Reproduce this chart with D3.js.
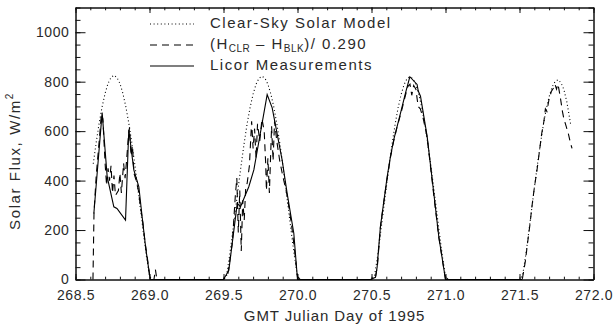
<!DOCTYPE html>
<html>
<head>
<meta charset="utf-8">
<script src="https://cdn.jsdelivr.net/npm/d3@7/dist/d3.min.js"></script>
<style>
  html, body { margin: 0; padding: 0; background: #fff; }
  svg { display: block; }
  text { font-family: "Liberation Sans", Arial, sans-serif; fill: #2a2a2a; }
</style>
</head>
<body>
<svg id="chart" width="614" height="331"></svg>
<script>
// Clear-sky solar model, W/m^2 by GMT Julian day
const clearSky = [
  [268.62,468],[268.64,555],[268.66,633],[268.68,699],[268.70,753],[268.72,793],[268.74,817],[268.76,826],
  [268.78,817],[268.80,793],[268.82,753],[268.84,699],[268.86,633],[268.88,555],[268.90,468],[268.92,375],
  [268.94,279],[268.96,183],[268.98,91],[269.00,13],[269.02,0],
  [269.50,0],[269.52,13],[269.54,91],[269.56,182],[269.58,278],[269.60,374],[269.62,466],[269.64,553],
  [269.66,631],[269.68,697],[269.70,750],[269.72,790],[269.74,814],[269.76,822],[269.78,814],[269.80,790],
  [269.82,750],[269.84,697],[269.86,631],[269.88,553],[269.90,466],[269.92,374],[269.94,278],[269.96,182],
  [269.98,91],[270.00,13],[270.02,0],
  [270.50,0],[270.52,13],[270.54,90],[270.56,182],[270.58,277],[270.60,372],[270.62,465],[270.64,551],
  [270.66,629],[270.68,695],[270.70,748],[270.72,788],[270.74,812],[270.76,820],[270.78,812],[270.80,788],
  [270.82,748],[270.84,695],[270.86,629],[270.88,551],[270.90,465],[270.92,372],[270.94,277],[270.96,182],
  [270.98,90],[271.00,13],[271.02,0],
  [271.50,0],[271.52,13],[271.54,90],[271.56,179],[271.58,274],[271.60,368],[271.62,459],[271.64,544],
  [271.66,621],[271.68,687],[271.70,739],[271.72,778],[271.74,800],[271.76,808],[271.78,796],[271.80,768],
  [271.82,718],[271.845,630]
];

// (H_CLR - H_BLK) / 0.290
const fluxRatio = [
  [268.618,0],[268.625,270],[268.64,420],[268.66,560],[268.675,670],[268.685,650],[268.70,470],[268.71,380],
  [268.72,450],[268.73,400],[268.74,460],[268.75,350],[268.76,420],[268.77,340],[268.79,360],[268.80,430],
  [268.81,350],[268.825,470],[268.835,410],[268.845,480],[268.855,560],[268.865,615],[268.875,500],
  [268.885,540],[268.895,430],[268.91,400],[268.925,360],[268.94,290],[268.955,230],[268.97,150],
  [268.985,90],[269.00,20],[269.01,0],[269.03,0],[269.04,40],[269.05,0],
  [269.50,0],[269.53,25],[269.56,150],[269.58,340],[269.59,410],[269.60,190],[269.61,360],[269.62,115],
  [269.63,320],[269.64,240],[269.65,370],[269.66,390],[269.675,460],[269.69,640],[269.70,530],[269.71,610],
  [269.72,490],[269.73,630],[269.745,560],[269.76,650],[269.775,600],[269.785,470],[269.79,360],[269.80,490],
  [269.81,350],[269.825,620],[269.835,480],[269.845,640],[269.86,560],[269.88,480],[269.90,420],[269.93,340],
  [269.96,220],[269.98,120],[270.00,10],[270.02,0],
  [270.50,0],[270.527,9],[270.54,55],[270.56,210],[270.58,300],[270.606,410],[270.63,500],[270.65,560],
  [270.67,610],[270.70,675],[270.725,735],[270.745,780],[270.76,790],[270.772,745],[270.785,785],[270.80,770],
  [270.815,700],[270.83,690],[270.85,650],[270.876,575],[270.92,345],[270.955,170],[271.00,0],
  [271.50,0],[271.52,5],[271.54,75],[271.555,150],[271.57,220],[271.585,300],[271.60,370],[271.62,450],
  [271.635,520],[271.65,590],[271.665,640],[271.675,690],[271.685,680],[271.70,730],[271.715,760],
  [271.73,775],[271.74,790],[271.75,770],[271.76,790],[271.775,740],[271.79,680],[271.80,650],[271.815,620],
  [271.83,590],[271.845,550],[271.855,530]
];

// Licor pyranometer measurements
const licor = [
  [268.624,267],[268.68,675],[268.714,416],[268.759,294],[268.78,287],[268.838,240],[268.86,606],
  [268.894,443],[268.928,375],[268.95,255],[268.975,125],[269.005,0],
  [269.50,0],[269.536,37],[269.593,308],[269.615,294],[269.671,375],[269.705,443],[269.795,748],
  [269.829,694],[269.896,484],[269.93,348],[269.975,187],[270.00,0],
  [270.493,0],[270.527,9],[270.538,50],[270.56,213],[270.606,416],[270.628,497],[270.65,565],[270.696,673],
  [270.73,755],[270.759,820],[270.808,789],[270.816,762],[270.831,741],[270.876,579],[270.921,348],
  [270.955,172],[271.00,0],[271.52,0]
];

const xMajorTicks = [268.5, 269.0, 269.5, 270.0, 270.5, 271.0, 271.5, 272.0];
const yMajorTicks = [0, 200, 400, 600, 800, 1000];
const legendLabels = ["Clear-Sky Solar Model", "(H_CLR \u2013 H_BLK)/ 0.290", "Licor Measurements"];

const svg = d3.select("#chart");
const plotLeft = 75.5, plotRight = 593.5, plotTop = 7.5, plotBottom = 279.5;

const x = d3.scaleLinear().domain([268.5, 272.0]).range([plotLeft, plotRight]);
const y = d3.scaleLinear().domain([0, 1100]).range([plotBottom, plotTop]);

const xMinor = d3.range(268.5, 272.001, 0.1).map(v => +v.toFixed(1));
const yMinor = d3.range(0, 1101, 50);

function styleAxis(g) {
  g.selectAll("path").attr("stroke", "#111").attr("stroke-width", 1);
  g.selectAll("line").attr("stroke", "#111").attr("stroke-width", 1);
  g.selectAll("text").attr("fill", "#2a2a2a").style("font-size", "14px")
    .style("font-family", "'Liberation Sans', Arial, sans-serif").style("letter-spacing", "0.6px");
}

// bottom axis with labels, ticks pointing inward
svg.append("g").attr("transform", `translate(0,${plotBottom})`)
  .call(d3.axisBottom(x).tickValues(xMinor).tickSize(-2.8).tickSizeOuter(0).tickFormat(""))
  .call(styleAxis);
svg.append("g").attr("transform", `translate(0,${plotBottom})`)
  .call(d3.axisBottom(x).tickValues(xMajorTicks).tickSize(-5.5).tickSizeOuter(0).tickPadding(11)
    .tickFormat(d3.format(".1f")))
  .call(styleAxis);

// top axis mirror
svg.append("g").attr("transform", `translate(0,${plotTop})`)
  .call(d3.axisTop(x).tickValues(xMinor).tickSize(-2.8).tickSizeOuter(0).tickFormat(""))
  .call(styleAxis);
svg.append("g").attr("transform", `translate(0,${plotTop})`)
  .call(d3.axisTop(x).tickValues(xMajorTicks).tickSize(-5.5).tickSizeOuter(0).tickFormat(""))
  .call(styleAxis);

// left axis
svg.append("g").attr("transform", `translate(${plotLeft},0)`)
  .call(d3.axisLeft(y).tickValues(yMinor).tickSize(-5).tickSizeOuter(0).tickFormat(""))
  .call(styleAxis);
svg.append("g").attr("transform", `translate(${plotLeft},0)`)
  .call(d3.axisLeft(y).tickValues(yMajorTicks).tickSize(-10).tickSizeOuter(0).tickPadding(6)
    .tickFormat(d3.format("d")))
  .call(styleAxis);

// right axis mirror
svg.append("g").attr("transform", `translate(${plotRight},0)`)
  .call(d3.axisRight(y).tickValues(yMinor).tickSize(-5).tickSizeOuter(0).tickFormat(""))
  .call(styleAxis);
svg.append("g").attr("transform", `translate(${plotRight},0)`)
  .call(d3.axisRight(y).tickValues(yMajorTicks).tickSize(-10).tickSizeOuter(0).tickFormat(""))
  .call(styleAxis);

// data lines
const line = d3.line().x(d => x(d[0])).y(d => y(d[1]));
const series = [
  { data: clearSky, dash: "1,2.6" },
  { data: fluxRatio, dash: "7,5" },
  { data: licor, dash: null }
];
series.forEach(s => {
  svg.append("path").datum(s.data)
    .attr("d", line)
    .attr("fill", "none")
    .attr("stroke", "#000")
    .attr("stroke-width", 1.1)
    .attr("stroke-dasharray", s.dash);
});

// legend
const legendX0 = 150, legendX1 = 194, legendTextX = 210;
const legendRows = [24, 45, 66];
series.forEach((s, i) => {
  svg.append("line")
    .attr("x1", legendX0).attr("x2", legendX1)
    .attr("y1", legendRows[i]).attr("y2", legendRows[i])
    .attr("stroke", "#000").attr("stroke-width", 1.1)
    .attr("stroke-dasharray", s.dash);
  const t = svg.append("text")
    .attr("x", legendTextX).attr("y", legendRows[i] + 4)
    .style("font-size", "15px").style("letter-spacing", "1.5px");
  if (i === 1) {
    // subscripted formula label
    t.append("tspan").text("(H");
    t.append("tspan").text("CLR").style("font-size", "10px").style("letter-spacing", "0.5px").attr("dy", 3);
    t.append("tspan").text(" \u2013 H").attr("dy", -3);
    t.append("tspan").text("BLK").style("font-size", "10px").style("letter-spacing", "0.5px").attr("dy", 3);
    t.append("tspan").text(")/ 0.290").attr("dy", -3);
  } else {
    t.text(legendLabels[i]);
  }
});

// axis titles
svg.append("text")
  .attr("x", (plotLeft + plotRight) / 2).attr("y", 321)
  .attr("text-anchor", "middle")
  .style("font-size", "15px").style("letter-spacing", "0.9px")
  .text("GMT Julian Day of 1995");

const yTitle = svg.append("text")
  .attr("transform", "translate(20,161) rotate(-90)")
  .attr("text-anchor", "middle")
  .style("font-size", "15px").style("letter-spacing", "1.6px");
yTitle.append("tspan").text("Solar Flux, W/m");
yTitle.append("tspan").text("2").style("font-size", "10px").attr("dy", -7);
</script>
</body>
</html>
